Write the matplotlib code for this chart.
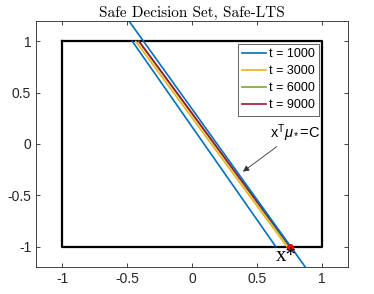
import matplotlib
matplotlib.use('Agg')
import matplotlib.pyplot as plt

# line endpoints (x at y = 1 and at y = -1) for each t
labels = ['t = 1000', 't = 3000', 't = 6000', 't = 9000']
x_top = [-0.458, -0.432, -0.41, -0.406]
x_bot = [0.644, 0.73, 0.748, 0.755]
colors = ['#0072BD', '#EDB120', '#77AC30', '#A2142F']

# true line x^T mu_* = C, drawn over the whole axes
true_x = [-0.485, 0.872]
true_y = [1.2, -1.2]

box_x = [-1, 1, 1, -1, -1]
box_y = [1, 1, -1, -1, 1]

xstar = (0.757, -1.0)

plt.rcParams['font.family'] = ['Liberation Sans', 'DejaVu Sans']
plt.rcParams['mathtext.fontset'] = 'custom'
plt.rcParams['mathtext.rm'] = 'Liberation Sans'
plt.rcParams['mathtext.it'] = 'Liberation Sans:italic'

fig = plt.figure(figsize=(3.74, 2.94), dpi=100)
ax = fig.add_axes([0.0963, 0.0918, 0.834, 0.837])

ax.plot(box_x, box_y, color='k', lw=1.6)
for xt, xb, c, lab in zip(x_top, x_bot, colors, labels):
    ax.plot([xt, xb], [1, -1], color=c, lw=1.2, label=lab)
ax.plot(true_x, true_y, color='#0072BD', lw=1.2)
ax.plot(*xstar, 'o', color='red', ms=4)

ax.text(0.645, -1.14, 'x*', fontsize=15, family='Liberation Serif')
ax.annotate(r'x$^{\rm T}\mu_*$=C', xy=(0.392, -0.27), xytext=(0.6, 0.06),
            fontsize=10.5, arrowprops=dict(arrowstyle='-|>', color='#333333',
                                           lw=0.6, shrinkA=0, shrinkB=0,
                                           mutation_scale=9),
            ha='left', va='baseline')

ax.set_xlim(-1.2, 1.2)
ax.set_ylim(-1.2, 1.2)
ax.set_xticks([-1, -0.5, 0, 0.5, 1])
ax.set_yticks([-1, -0.5, 0, 0.5, 1])
ax.set_xticklabels(['-1', '-0.5', '0', '0.5', '1'])
ax.set_yticklabels(['-1', '-0.5', '0', '0.5', '1'])
ax.tick_params(direction='in', top=True, right=True, labelsize=10,
               colors='#262626', length=3, width=0.6)
for s in ax.spines.values():
    s.set_color('#262626')
    s.set_linewidth(0.6)
ax.set_title('Safe Decision Set, Safe-LTS', family='cmr10', fontsize=11, pad=3)

leg = ax.legend(loc='upper right', bbox_to_anchor=(0.907, 0.906), fontsize=9,
                handlelength=1.9, handletextpad=0.2, borderpad=0.35,
                labelspacing=0.4, fancybox=False, edgecolor='#262626',
                framealpha=1, borderaxespad=0)
leg.get_frame().set_linewidth(0.5)

fig.savefig('out.png', dpi=100)
